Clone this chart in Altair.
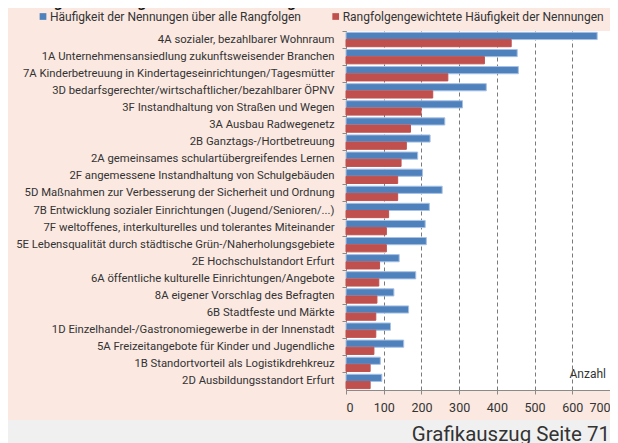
import altair as alt
import pandas as pd

categories = [
    "4A sozialer, bezahlbarer Wohnraum",
    "1A Unternehmensansiedlung zukunftsweisender Branchen",
    "7A Kinderbetreuung in Kindertageseinrichtungen/Tagesmütter",
    "3D bedarfsgerechter/wirtschaftlicher/bezahlbarer ÖPNV",
    "3F Instandhaltung von Straßen und Wegen",
    "3A Ausbau Radwegenetz",
    "2B Ganztags-/Hortbetreuung",
    "2A gemeinsames schulartübergreifendes Lernen",
    "2F angemessene Instandhaltung von Schulgebäuden",
    "5D Maßnahmen zur Verbesserung der Sicherheit und Ordnung",
    "7B Entwicklung sozialer Einrichtungen (Jugend/Senioren/...)",
    "7F weltoffenes, interkulturelles und tolerantes Miteinander",
    "5E Lebensqualität durch städtische Grün-/Naherholungsgebiete",
    "2E Hochschulstandort Erfurt",
    "6A öffentliche kulturelle Einrichtungen/Angebote",
    "8A eigener Vorschlag des Befragten",
    "6B Stadtfeste und Märkte",
    "1D Einzelhandel-/Gastronomiegewerbe in der Innenstadt",
    "5A Freizeitangebote für Kinder und Jugendliche",
    "1B Standortvorteil als Logistikdrehkreuz",
    "2D Ausbildungsstandort Erfurt",
]
haeufigkeit = [666, 454, 457, 372, 309, 262, 223, 190, 203, 255, 221,
               210, 213, 141, 185, 127, 166, 118, 153, 91, 95]
gewichtet = [438, 367, 270, 230, 199, 171, 160, 146, 137, 137, 113,
             107, 107, 89, 87, 82, 79, 79, 74, 64, 64]
series = ["Häufigkeit der Nennungen über alle Rangfolgen",
          "Rangfolgengewichtete Häufigkeit der Nennungen"]
x_ticks = [0, 100, 200, 300, 400, 500, 600, 700]

BLUE = "#4F81BD"
RED = "#C0504D"
FONT = "Roboto"

rows = []
for c, a, b in zip(categories, haeufigkeit, gewichtet):
    rows.append({"kat": c, "serie": series[0], "wert": a})
    rows.append({"kat": c, "serie": series[1], "wert": b})
df = pd.DataFrame(rows)
one = pd.DataFrame({"a": [0]})

W, H = 264, 359

bars = alt.Chart(df).mark_bar(strokeWidth=1).encode(
    x=alt.X("wert:Q", scale=alt.Scale(domain=[0, 700], nice=False),
            axis=alt.Axis(values=x_ticks, title=None, grid=True, gridDash=[4, 3],
                          gridColor="#7a7a7a", gridWidth=1, domainColor="#8a8a8a",
                          tickColor="#8a8a8a", tickSize=4, labelPadding=7,
                          labelFontSize=12.5, labelColor="#333333", labelFont=FONT)),
    y=alt.Y("kat:N", sort=categories, scale=alt.Scale(paddingInner=0, paddingOuter=0),
            axis=alt.Axis(title=None, bandPosition=0, tickSize=4, labelPadding=8,
                          domainColor="#8a8a8a", tickColor="#8a8a8a",
                          labelFontSize=11.3, labelColor="#333333", labelFont=FONT,
                          labelLimit=400, labelBaseline="middle")),
    yOffset=alt.YOffset("serie:N", sort=series,
                        scale=alt.Scale(paddingInner=0, paddingOuter=0.19)),
    color=alt.Color("serie:N", scale=alt.Scale(domain=series, range=[BLUE, RED]), legend=None),
    stroke=alt.Stroke("serie:N", scale=alt.Scale(domain=series, range=["#a7c1e4", RED]), legend=None),
)

def txt(text, x, y, size=12, align="left", weight="normal", color="#333333", baseline="alphabetic"):
    return alt.Chart(one).mark_text(text=text, align=align, baseline=baseline, fontSize=size,
                                    fontWeight=weight, color=color, font=FONT).encode(
        x=alt.value(x), y=alt.value(y))

strip = alt.Chart(one).mark_rect(color="#f0f0f0").encode(
    x=alt.value(-338), x2=alt.value(W), y=alt.value(H + 30), y2=alt.value(H + 53))

leg_blue = alt.Chart(one).mark_square(size=45, color=BLUE, opacity=1).encode(
    x=alt.value(-303), y=alt.value(-14.5))
leg_red = alt.Chart(one).mark_square(size=45, color=RED, opacity=1).encode(
    x=alt.value(-10.3), y=alt.value(-14.5))

chart = alt.layer(
    strip,
    bars,
    leg_blue,
    txt(series[0], -296, -14.5, size=12, baseline="middle"),
    leg_red,
    txt(series[1], -3.3, -14.5, size=12, baseline="middle"),
    txt("Wichtigsten strategischen Ziele aus Bürgersicht", -336, -24, size=15.5, weight="bold",
        color="#111111"),
    txt("Anzahl", W - 4, H - 12, size=12, align="right"),
    txt("Grafikauszug Seite 71", W, H + 51, size=20.5, align="right"),
).properties(
    width=W, height=H,
    padding={"left": 338, "top": 23, "right": 0, "bottom": 53},
    autosize=alt.AutoSizeParams(type="none"),
    background="#fae8e1",
).configure_view(stroke=None, fill="white")

chart.save("out.html", embed_options={"renderer": "svg", "actions": False})
